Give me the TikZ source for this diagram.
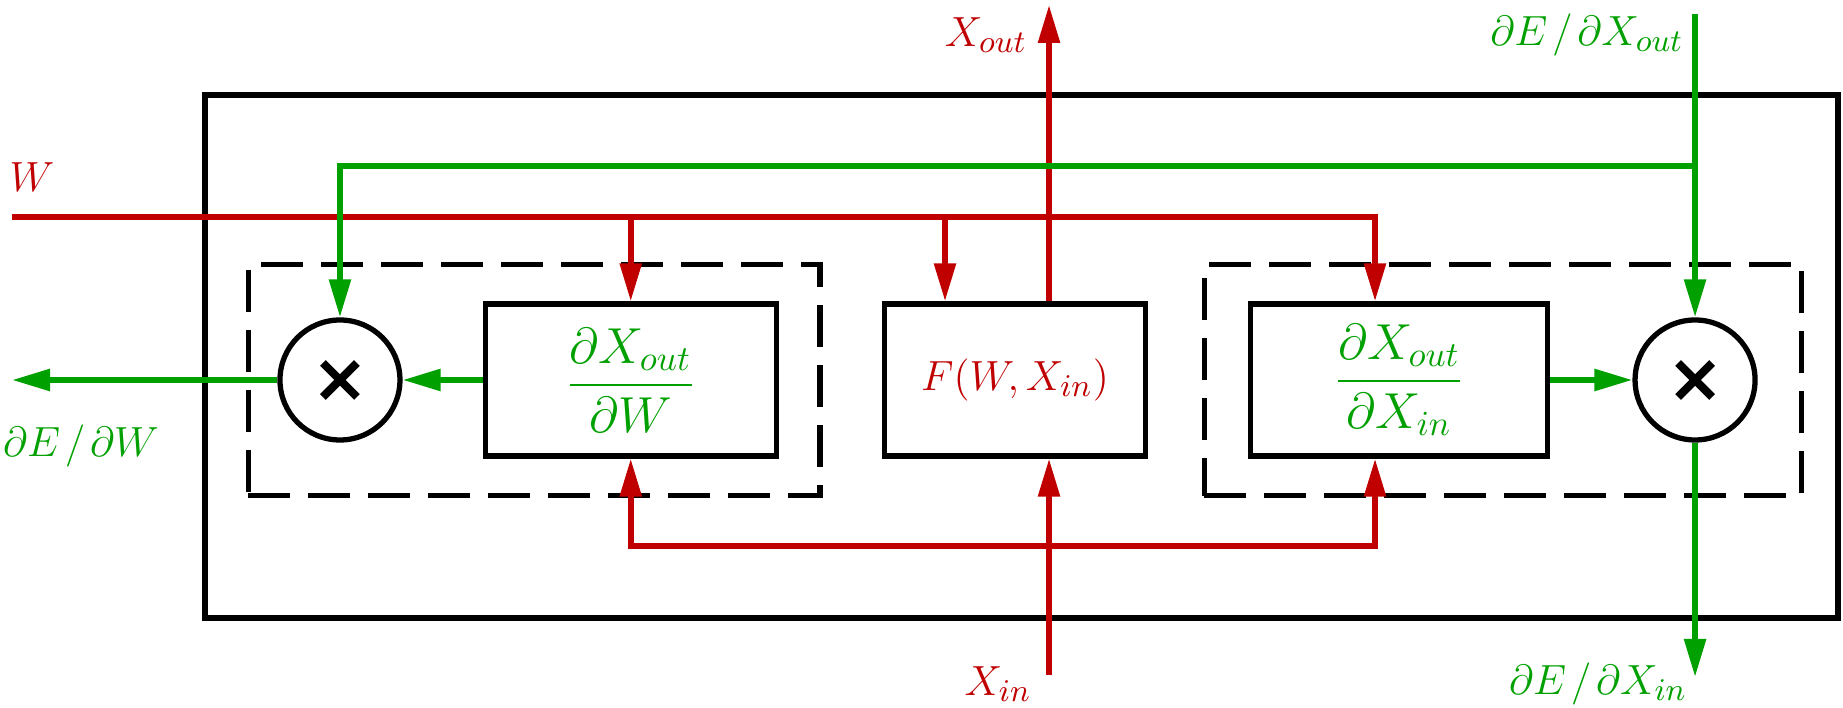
\documentclass[tikz,border=0pt]{standalone}
\usepackage{amsmath, amssymb}
\usepackage{tikz}
\usetikzlibrary{positioning, arrows.meta, fit}

\definecolor{fwdred}{RGB}{192,0,0}
\definecolor{bwdgreen}{RGB}{0,160,0}

\begin{document}
\begin{tikzpicture}[
    node distance=1cm,
    >={Triangle[length=0.38cm, width=0.21cm]},
    every node/.style={font=\fontsize{12.5}{15}\selectfont},
    fwd/.style={draw=fwdred, line width=1.6pt},
    bwd/.style={draw=bwdgreen, line width=1.6pt},
    block/.style={
      draw,
      line width=1.5pt,
      minimum height=1.52cm,
      inner sep=0pt
    },
    deriv/.style={
      block,
      text=bwdgreen,
      font=\fontsize{14}{17}\selectfont
    },
    mult/.style={
      draw,
      circle,
      line width=1.5pt,
      minimum size=1.2cm,
      inner sep=0pt,
      path picture={\draw[line width=2.3pt] (path picture bounding box.center)
        +(-0.17,-0.17) -- +(0.17,0.17) +(-0.17,0.17) -- +(0.17,-0.17);}
    },
    dashgroup/.style={
      draw,
      line width=1.5pt,
      dash pattern=on 0.42cm off 0.18cm,
      inner ysep=0.37cm
    }
  ]
  \useasboundingbox (0,0) rectangle (18.43,7.08);
  \draw[line width=1.5pt] (2.05,0.90) rectangle (18.38,6.13);

  % blocks
  \node[block, minimum width=2.61cm, text=fwdred] (F) at (10.15,3.28) {$F(W, X_{in})$};
  \node[deriv, minimum width=2.91cm, left=1.03cm of F] (dW)
    {$\dfrac{\partial X_{out}}{\partial W}$};
  \node[deriv, minimum width=2.97cm, right=1.0cm of F] (dX)
    {$\dfrac{\partial X_{out}}{\partial X_{in}}$};
  \node[mult, left=0.8cm of dW] (mW) {};
  \node[mult, right=0.82cm of dX] (mX) {};

  \node[dashgroup, inner xsep=0.35cm, xshift=0.06cm, fit=(mW)(dW)] (boxW) {};
  \node[dashgroup, inner xsep=0.44cm, fit=(dX)(mX)] (boxX) {};

  % labels
  \node[text=fwdred] (lblW) at (0.32,5.31) {$W$};
  \node[text=fwdred] (lblXout) at (9.86,6.73) {$X_{out}$};
  \node[text=fwdred] (lblXin) at (9.98,0.24) {$X_{in}$};
  \node[text=bwdgreen] (lblEXout) at (15.87,6.73) {$\partial E\mkern2mu/\mkern2mu\partial X_{out}$};
  \node[text=bwdgreen] (lblEXin) at (15.98,0.24) {$\partial E\mkern2mu/\mkern2mu\partial X_{in}$};
  \node[text=bwdgreen] (lblEW) at (0.81,2.62) {$\partial E\mkern2mu/\mkern2mu\partial W$};

  \coordinate (Win) at (0.12,4.91);
  \coordinate (WF) at (9.45,4.91);
  \coordinate (WX) at (13.75,4.91);
  \coordinate (Xbus) at (13.75,1.62);
  \coordinate (Fout) at (10.49,7.03);
  \coordinate (Fin) at (10.49,0.33);
  \coordinate (Gtop) at (mX.north |- 0,6.94);
  \coordinate (Gsplit) at (mX.north |- 0,5.42);
  \coordinate (Gbot) at (mX.south |- 0,0.31);
  \coordinate (Gleft) at (mW.west -| 0.12,0);

  % forward pass
  \draw[fwd, ->] (Win) -- (WX) -- (WX |- dX.north);
  \draw[fwd, ->] (dW.north |- Win) -- (dW.north);
  \draw[fwd, ->] (WF) -- (WF |- F.north);
  \draw[fwd, <->] (dW.south) |- (Xbus) -- (Xbus |- dX.south);
  \draw[fwd, ->] (Fin) -- (Fin |- F.south);
  \draw[fwd, ->] (Fout |- F.north) -- (Fout);

  % backward pass
  \draw[bwd, ->] (Gtop) -- (mX.north);
  \draw[bwd, ->] (Gsplit) -| (mW.north);
  \draw[bwd, ->] (mX.south) -- (Gbot);
  \draw[bwd, ->] (dX.east) -- (mX.west);
  \draw[bwd, ->] (dW.west) -- (mW.east);
  \draw[bwd, ->] (mW.west) -- (Gleft);
\end{tikzpicture}
\end{document}
